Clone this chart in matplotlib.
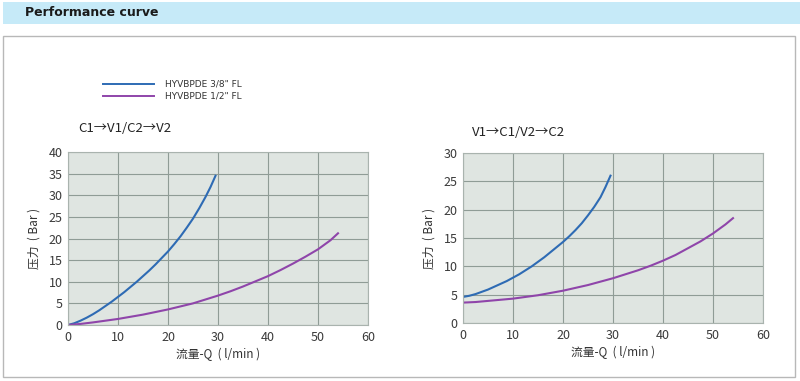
import matplotlib
matplotlib.use("Agg")
import matplotlib.pyplot as plt
from matplotlib.patches import Rectangle

plt.rcParams['font.family'] = ['Noto Sans CJK SC', 'DejaVu Sans']

# flow (l/min) vs pressure drop (bar)
q_38_a = [0, 1.25, 2.5, 3.75, 5, 6.25, 7.5, 8.75, 10, 11.25, 12.5, 13.75, 15, 16.25, 17.5,
          18.75, 20, 21.25, 22.5, 23.75, 25, 26.25, 27.5, 28.5, 29.5]
p_38_a = [0, 0.4, 1.0, 1.7, 2.5, 3.4, 4.4, 5.4, 6.5, 7.6, 8.8, 10.0, 11.3, 12.6, 14.0,
          15.5, 17.0, 18.7, 20.5, 22.5, 24.6, 27.0, 29.6, 31.9, 34.5]
q_12_a = [0, 2.5, 5, 7.5, 10, 12.5, 15, 17.5, 20, 22.5, 25, 27.5, 30, 32.5, 35, 37.5,
          40, 42.5, 45, 47.5, 50, 52.5, 54]
p_12_a = [0, 0.25, 0.6, 1.0, 1.4, 1.9, 2.4, 3.0, 3.6, 4.3, 5.0, 5.9, 6.8, 7.8, 8.9, 10.1,
          11.3, 12.7, 14.2, 15.8, 17.5, 19.6, 21.2]

q_38_b = [0, 1.25, 2.5, 3.75, 5, 6.25, 7.5, 8.75, 10, 11.25, 12.5, 13.75, 15, 16.25, 17.5,
          18.75, 20, 21.25, 22.5, 23.75, 25, 26.25, 27.5, 28.5, 29.5]
p_38_b = [4.6, 4.8, 5.1, 5.5, 5.9, 6.4, 6.9, 7.4, 8.0, 8.6, 9.3, 10.0, 10.8, 11.6, 12.5,
          13.4, 14.3, 15.3, 16.4, 17.6, 19.0, 20.5, 22.2, 24.0, 26.0]
q_12_b = [0, 2.5, 5, 7.5, 10, 12.5, 15, 17.5, 20, 22.5, 25, 27.5, 30, 32.5, 35, 37.5,
          40, 42.5, 45, 47.5, 50, 52.5, 54]
p_12_b = [3.6, 3.7, 3.9, 4.1, 4.3, 4.6, 4.9, 5.3, 5.7, 6.2, 6.7, 7.3, 7.9, 8.6, 9.3, 10.1,
          11.0, 12.0, 13.2, 14.4, 15.8, 17.4, 18.5]

labels = ['HYVBPDE 3/8" FL', 'HYVBPDE 1/2" FL']
titles = ['C1→V1/C2→V2', 'V1→C1/V2→C2']
blue = '#2e6bb4'
purple = '#8f45aa'

W, H = 800, 381
fig = plt.figure(figsize=(8, 3.81), dpi=100)
fig.patch.set_facecolor('white')

# header band and outer frame
fig.patches.append(Rectangle((3 / W, 1 - 24 / H), 797 / W, 22 / H, transform=fig.transFigure,
                             facecolor='#c6eaf8', edgecolor='none'))
fig.text(25 / W, 1 - 13 / H, 'Performance curve', fontsize=9, fontweight='bold',
         color='#1a1a1a', va='center', family=['DejaVu Sans'])
fig.patches.append(Rectangle((3 / W, 1 - 377 / H), 792 / W, 341 / H, transform=fig.transFigure,
                             facecolor='none', edgecolor='#b8b8b8', lw=1))


def make_axes(px_left, px_top, px_right, px_bottom):
    return fig.add_axes([px_left / W, 1 - px_bottom / H,
                         (px_right - px_left) / W, (px_bottom - px_top) / H])


def style(ax, ymax):
    ax.set_facecolor('#dfe5e1')
    ax.set_xlim(0, 60)
    ax.set_ylim(0, ymax)
    ax.set_xticks(range(0, 61, 10))
    ax.set_yticks(range(0, ymax + 1, 5))
    ax.grid(True, color='#8f9c96', lw=0.8)
    ax.set_axisbelow(True)
    for s in ax.spines.values():
        s.set_color('#a9b3ae')
        s.set_linewidth(0.8)
    ax.tick_params(length=0, labelsize=9, colors='#3a3a3a', pad=4)
    ax.set_xlabel('流量-Q  ( l/min )', fontsize=8.5, color='#333333', labelpad=3)
    ax.set_ylabel('压力  ( Bar )', fontsize=8.5, color='#333333', labelpad=6)


ax1 = make_axes(68, 152, 368, 325)
style(ax1, 40)
ax1.plot(q_38_a, p_38_a, color=blue, lw=1.5)
ax1.plot(q_12_a, p_12_a, color=purple, lw=1.5)
ax1.text(0.035, 1.1, titles[0], transform=ax1.transAxes, fontsize=9.5, color='#222222', va='bottom')

ax2 = make_axes(463, 153, 763, 323)
style(ax2, 30)
ax2.plot(q_38_b, p_38_b, color=blue, lw=1.5)
ax2.plot(q_12_b, p_12_b, color=purple, lw=1.5)
ax2.text(0.03, 1.08, titles[1], transform=ax2.transAxes, fontsize=9.5, color='#222222', va='bottom')

# legend drawn by hand in figure coordinates
for i, (lab, col) in enumerate(zip(labels, [blue, purple])):
    y = 1 - (84 + 12 * i) / H
    fig.add_artist(plt.Line2D([103 / W, 154 / W], [y, y], color=col, lw=1.4))
    fig.text(165 / W, y, lab, fontsize=6.5, color='#333333', va='center', family=['DejaVu Sans'])

fig.savefig('out.png', dpi=100)
